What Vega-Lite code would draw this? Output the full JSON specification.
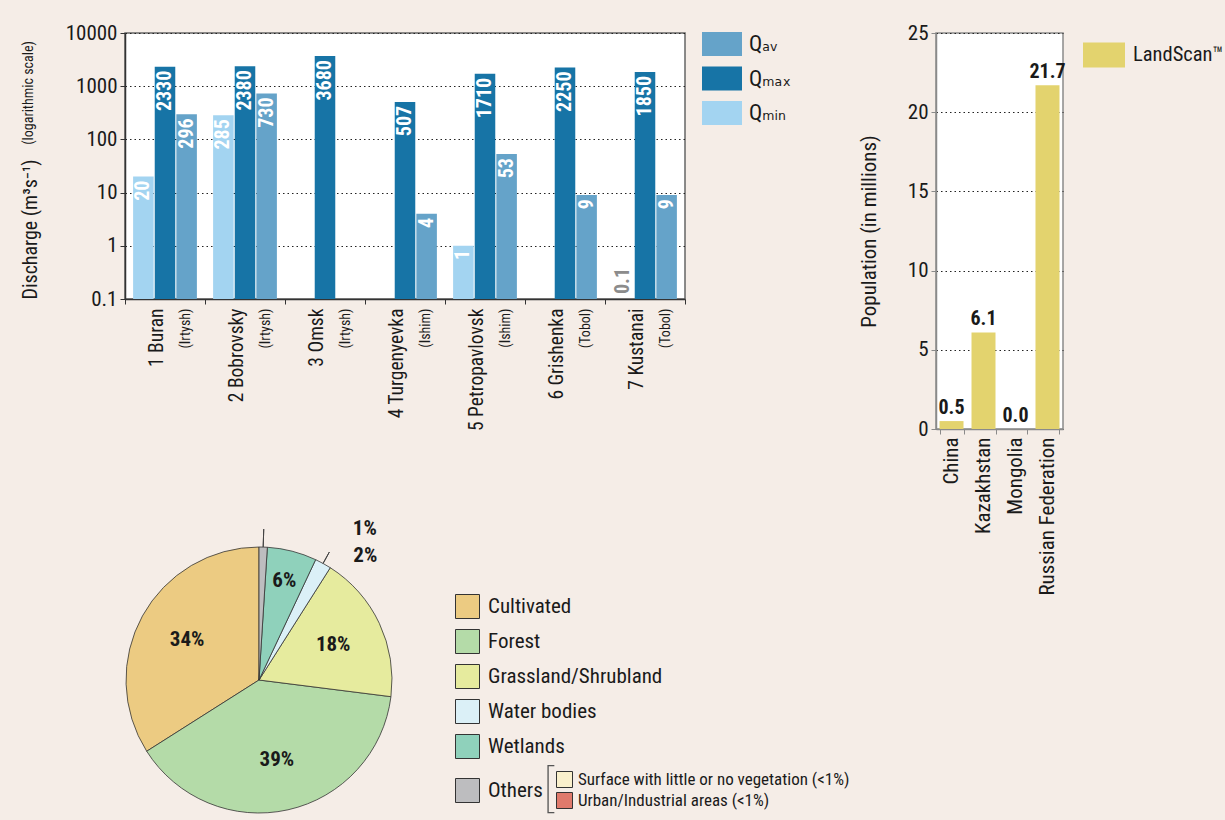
{
  "$schema": "https://vega.github.io/schema/vega-lite/v6.json",
  "background": "#f5ede7",
  "padding": {"left": 19, "top": 21, "right": 0, "bottom": 0},
  "config": {
    "font": "Roboto Condensed, DejaVu Sans Condensed, sans-serif",
    "axis": {"labelColor": "#1a1a1a", "titleColor": "#1a1a1a", "titleFontWeight": "normal", "labelFontSize": 21, "tickColor": "#333", "domainColor": "#333"},
    "legend": {"labelColor": "#1a1a1a"},
    "title": {"color": "#1a1a1a"}
  },
  "bounds": "flush",
  "spacing": 513,
  "resolve": {"scale": {"color": "independent"}, "legend": {"color": "independent"}},
  "vconcat": [
    {
      "bounds": "flush",
      "spacing": 251,
      "resolve": {"scale": {"color": "independent"}, "legend": {"color": "independent"}},
      "hconcat": [
        {
          "width": 560,
          "height": 266,
          "view": {"fill": "#ffffff", "stroke": "#666666", "strokeWidth": 1.5},
          "title": {"text": "(logarithmic scale)", "orient": "left", "anchor": "end", "fontSize": 14, "fontWeight": "normal", "offset": -16, "dx": -8, "frame": "group"},
          "data": {"values": [
            {"site": "1 Buran (Irtysh)", "series": "Qmin", "value": 20},
            {"site": "1 Buran (Irtysh)", "series": "Qmax", "value": 2330},
            {"site": "1 Buran (Irtysh)", "series": "Qav", "value": 296},
            {"site": "2 Bobrovsky (Irtysh)", "series": "Qmin", "value": 285},
            {"site": "2 Bobrovsky (Irtysh)", "series": "Qmax", "value": 2380},
            {"site": "2 Bobrovsky (Irtysh)", "series": "Qav", "value": 730},
            {"site": "3 Omsk (Irtysh)", "series": "Qmax", "value": 3680},
            {"site": "4 Turgenyevka (Ishim)", "series": "Qmax", "value": 507},
            {"site": "4 Turgenyevka (Ishim)", "series": "Qav", "value": 4},
            {"site": "5 Petropavlovsk (Ishim)", "series": "Qmin", "value": 1},
            {"site": "5 Petropavlovsk (Ishim)", "series": "Qmax", "value": 1710},
            {"site": "5 Petropavlovsk (Ishim)", "series": "Qav", "value": 53},
            {"site": "6 Grishenka (Tobol)", "series": "Qmax", "value": 2250},
            {"site": "6 Grishenka (Tobol)", "series": "Qav", "value": 9},
            {"site": "7 Kustanai (Tobol)", "series": "Qmin", "value": 0.1},
            {"site": "7 Kustanai (Tobol)", "series": "Qmax", "value": 1850},
            {"site": "7 Kustanai (Tobol)", "series": "Qav", "value": 9}
          ]},
          "encoding": {
            "xOffset": {"field": "series", "type": "nominal", "scale": {"domain": ["Qmin", "Qmax", "Qav"], "paddingInner": 0.05, "paddingOuter": 0.375}},
            "y": {
              "field": "value", "type": "quantitative",
              "scale": {"type": "log", "domain": [0.1, 10000]},
              "axis": {"title": "Discharge (m³s⁻¹)", "titleFontSize": 20, "titleAnchor": "start", "titlePadding": 25, "values": [0.1, 1, 10, 100, 1000, 10000], "format": "~g", "grid": true, "gridDash": [1.5, 3], "gridColor": "#222222", "gridWidth": 1, "tickSize": 5, "labelPadding": 3, "domainWidth": 1.5}
            }
          },
          "layer": [
            {
              "mark": {"type": "bar"},
              "encoding": {
                "x": {"field": "site", "type": "nominal", "sort": null, "scale": {"paddingInner": 0, "paddingOuter": 0},
                      "axis": {"orient": "bottom", "offset": 0, "title": null, "ticks": false, "domain": false, "labelAngle": 270, "labelFontSize": 19.5, "labelOffset": -8, "labelPadding": 9, "labelExpr": "slice(datum.label, 0, indexof(datum.label, ' ('))"}},
                "y2": {"datum": 0.1},
                "color": {
                  "field": "series", "type": "nominal",
                  "scale": {"domain": ["Qav", "Qmax", "Qmin"], "range": ["#65a3c9", "#1774a6", "#a3d4f1"]},
                  "legend": {"title": null, "orient": "none", "legendX": 577, "legendY": -9, "padding": 0, "symbolType": "M-1,-0.6H1V0.6H-1Z", "symbolSize": 1600, "symbolStrokeWidth": 0, "symbolOpacity": 1, "labelFontSize": 22, "labelOffset": 7, "rowPadding": 2.5, "labelExpr": "datum.label === 'Qav' ? 'Qₐᵥ' : datum.label === 'Qmax' ? 'Qₘₐₓ' : 'Qₘᵢₙ'"}
                }
              }
            },
            {
              "transform": [{"filter": "datum.value > 0.1"}],
              "mark": {"type": "text", "angle": 270, "align": "right", "baseline": "middle", "dx": -4, "fontSize": 20, "fontWeight": "bold", "color": "#ffffff"},
              "encoding": {
                "x": {"field": "site", "type": "nominal", "sort": null,
                      "axis": {"orient": "bottom", "offset": 0, "title": null, "ticks": false, "domain": false, "labelAngle": 270, "labelFontSize": 14, "labelOffset": 21, "labelPadding": 9, "labelExpr": "slice(datum.label, indexof(datum.label, '('))"}},
                "text": {"field": "value", "type": "quantitative", "format": "~g"}
              }
            },
            {
              "transform": [{"filter": "datum.value <= 0.1"}],
              "mark": {"type": "text", "angle": 270, "align": "left", "baseline": "middle", "dx": 5, "fontSize": 20, "fontWeight": "bold", "color": "#8c8c8c"},
              "encoding": {
                "x": {"field": "site", "type": "nominal", "sort": null,
                      "axis": {"orient": "bottom", "offset": 0, "title": null, "labels": false, "ticks": true, "tickBand": "extent", "tickSize": 5, "domain": true, "domainWidth": 1.5}},
                "text": {"field": "value", "type": "quantitative", "format": "~g"}
              }
            }
          ],
          "resolve": {"axis": {"x": "independent"}}
        },
        {
          "width": 127,
          "height": 396,
          "view": {"fill": "#ffffff", "stroke": "#8a8a8a", "strokeWidth": 1.5},
          "data": {"values": [
            {"country": "China", "population": 0.5, "source": "LandScan™"},
            {"country": "Kazakhstan", "population": 6.1, "source": "LandScan™"},
            {"country": "Mongolia", "population": 0.0, "source": "LandScan™"},
            {"country": "Russian Federation", "population": 21.7, "source": "LandScan™"}
          ]},
          "encoding": {
            "x": {"field": "country", "type": "nominal", "sort": null, "scale": {"paddingInner": 0.25, "paddingOuter": 0.11},
                  "axis": {"title": null, "labelAngle": 270, "labelFontSize": 21, "tickBand": "extent", "tickSize": 5, "labelPadding": 3, "domainColor": "#8a8a8a", "tickColor": "#8a8a8a", "domainWidth": 1.5}},
            "y": {"field": "population", "type": "quantitative", "scale": {"domain": [0, 25]},
                  "axis": {"title": "Population (in millions)", "titleFontSize": 21, "titlePadding": 28, "values": [0, 5, 10, 15, 20, 25], "grid": true, "gridDash": [1.5, 3], "gridColor": "#222222", "tickSize": 5, "labelPadding": 3, "domainColor": "#8a8a8a", "tickColor": "#8a8a8a", "domainWidth": 1.5}}
          },
          "layer": [
            {
              "mark": {"type": "bar"},
              "encoding": {
                "color": {"field": "source", "type": "nominal", "scale": {"domain": ["LandScan™"], "range": ["#e3d36e"]},
                          "legend": {"title": null, "orient": "none", "legendX": 147, "legendY": 1, "padding": 0, "symbolType": "M-1,-0.6H1V0.6H-1Z", "symbolSize": 1764, "symbolStrokeWidth": 0, "symbolOpacity": 1, "labelFontSize": 20.5, "labelOffset": 8}}
              }
            },
            {
              "mark": {"type": "text", "baseline": "bottom", "dy": -3, "fontSize": 20, "fontWeight": "bold", "color": "#1a1a1a"},
              "encoding": {"text": {"field": "population", "type": "quantitative", "format": ".1f"}}
            }
          ]
        }
      ]
    },
    {
      "width": 268,
      "height": 268,
      "view": {"stroke": null, "fill": null},
      "data": {"values": [
        {"category": "Cultivated", "share": 0.34, "rank": 1},
        {"category": "Forest", "share": 0.39, "rank": 2},
        {"category": "Grassland/Shrubland", "share": 0.18, "rank": 3},
        {"category": "Water bodies", "share": 0.02, "rank": 4},
        {"category": "Wetlands", "share": 0.06, "rank": 5},
        {"category": "Others", "share": 0.01, "rank": 6}
      ]},
      "layer": [
        {
          "mark": {"type": "arc", "outerRadius": 133, "stroke": "#333333", "strokeWidth": 0.8},
          "encoding": {
            "theta": {"field": "share", "type": "quantitative", "stack": true},
            "order": {"field": "rank", "type": "quantitative", "sort": "descending"},
            "color": {
              "field": "category", "type": "nominal",
              "scale": {"domain": ["Cultivated", "Forest", "Grassland/Shrubland", "Water bodies", "Wetlands", "Others"], "range": ["#eccb82", "#b4dba8", "#e6eb9e", "#dbf0f7", "#8fd1bb", "#bdbdbf"]},
              "legend": {"title": null, "orient": "none", "legendX": 330, "legendY": 48, "padding": 0, "values": ["Cultivated", "Forest", "Grassland/Shrubland", "Water bodies", "Wetlands"], "symbolType": "square", "symbolSize": 576, "symbolStrokeColor": "#333333", "symbolStrokeWidth": 1, "symbolOpacity": 1, "labelFontSize": 21, "labelOffset": 8, "rowPadding": 6, "labelLimit": 400}
            }
          }
        },
        {
          "mark": {"type": "arc", "filled": false, "radius": 151, "radius2": 133, "padAngle": 1, "stroke": "#444444", "strokeWidth": 1},
          "encoding": {
            "theta": {"field": "share", "type": "quantitative", "stack": true},
            "order": {"field": "rank", "type": "quantitative", "sort": "descending"},
            "strokeOpacity": {"condition": {"test": "datum.category === 'Others'", "value": 1}, "value": 0}
          }
        },
        {
          "mark": {"type": "arc", "filled": false, "radius": 146, "radius2": 133, "padAngle": 1, "stroke": "#444444", "strokeWidth": 1},
          "encoding": {
            "theta": {"field": "share", "type": "quantitative", "stack": true},
            "order": {"field": "rank", "type": "quantitative", "sort": "descending"},
            "strokeOpacity": {"condition": {"test": "datum.category === 'Water bodies'", "value": 1}, "value": 0}
          }
        },
        {
          "mark": {"type": "text", "radius": 82, "fontSize": 21, "fontWeight": "bold", "color": "#1a1a1a"},
          "encoding": {
            "theta": {"field": "share", "type": "quantitative", "stack": true},
            "order": {"field": "rank", "type": "quantitative", "sort": "descending"},
            "text": {"condition": {"test": "datum.share < 0.1", "value": ""}, "field": "share", "type": "quantitative", "format": ".0%"}
          }
        },
        {
          "mark": {"type": "text", "radius": 102, "fontSize": 21, "fontWeight": "bold", "color": "#1a1a1a"},
          "encoding": {
            "theta": {"field": "share", "type": "quantitative", "stack": true},
            "order": {"field": "rank", "type": "quantitative", "sort": "descending"},
            "text": {"condition": {"test": "datum.category !== 'Wetlands'", "value": ""}, "field": "share", "type": "quantitative", "format": ".0%"}
          }
        },
        {
          "mark": {"type": "text", "radius": 152, "align": "left", "baseline": "middle", "dx": 89, "dy": 1, "fontSize": 21, "fontWeight": "bold", "color": "#1a1a1a"},
          "encoding": {
            "theta": {"field": "share", "type": "quantitative", "stack": true},
            "order": {"field": "rank", "type": "quantitative", "sort": "descending"},
            "text": {"condition": {"test": "datum.category !== 'Others'", "value": ""}, "field": "share", "type": "quantitative", "format": ".0%"}
          }
        },
        {
          "mark": {"type": "text", "radius": 150, "align": "left", "baseline": "middle", "dx": 22, "dy": 7, "fontSize": 21, "fontWeight": "bold", "color": "#1a1a1a"},
          "encoding": {
            "theta": {"field": "share", "type": "quantitative", "stack": true},
            "order": {"field": "rank", "type": "quantitative", "sort": "descending"},
            "text": {"condition": {"test": "datum.category !== 'Water bodies'", "value": ""}, "field": "share", "type": "quantitative", "format": ".0%"}
          }
        },
        {
          "data": {"values": [{"group": "Others"}]},
          "mark": {"type": "text", "text": ""},
          "encoding": {
            "color": {"field": "group", "type": "nominal", "scale": {"domain": ["Others"], "range": ["#bdbdbf"]},
                      "legend": {"title": null, "orient": "none", "legendX": 330, "legendY": 232, "padding": 0, "symbolType": "square", "symbolSize": 576, "symbolStrokeColor": "#333333", "symbolStrokeWidth": 1, "symbolOpacity": 1, "labelFontSize": 21, "labelOffset": 8, "labelLimit": 400}}
          }
        },
        {
          "data": {"values": [{"sub": "Surface with little or no vegetation (<1%)"}, {"sub": "Urban/Industrial areas (<1%)"}]},
          "mark": {"type": "text", "text": ""},
          "encoding": {
            "color": {"field": "sub", "type": "nominal", "scale": {"domain": ["Surface with little or no vegetation (<1%)", "Urban/Industrial areas (<1%)"], "range": ["#faf0cc", "#e07a6c"]},
                      "legend": {"title": "[", "titleOrient": "left", "titleAnchor": "middle", "titleBaseline": "middle", "titleFontSize": 50, "titleFont": "Roboto", "titleFontWeight": 100, "titleColor": "#555555", "titlePadding": 2, "orient": "none", "legendX": 418, "legendY": 225, "padding": 0, "symbolType": "square", "symbolSize": 256, "symbolStrokeColor": "#333333", "symbolStrokeWidth": 1, "symbolOpacity": 1, "labelFontSize": 17, "labelOffset": 5, "rowPadding": 0, "labelLimit": 400}}
          }
        }
      ],
      "resolve": {"scale": {"color": "independent"}}
    }
  ]
}
